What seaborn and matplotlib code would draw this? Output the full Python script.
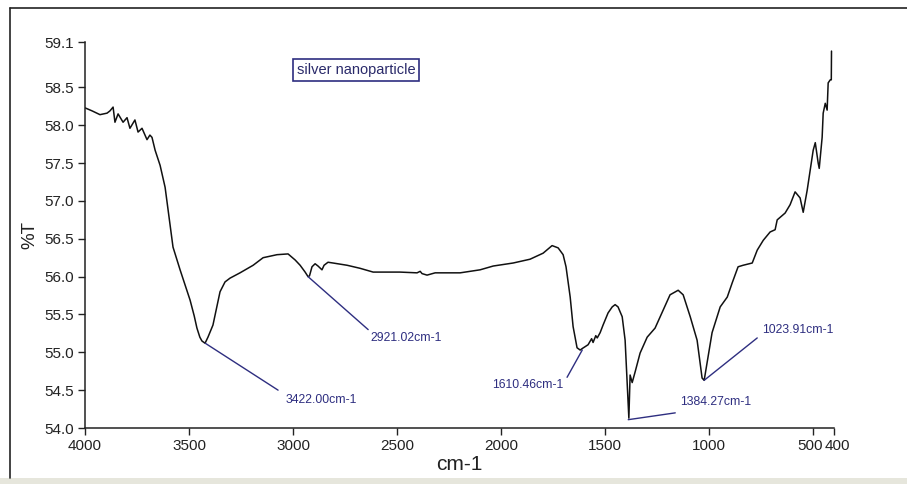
import numpy as np
import pandas as pd
import matplotlib.pyplot as plt
import matplotlib.patches as patches
import matplotlib.lines as mlines
import matplotlib.transforms as mtransforms
import seaborn as sns

# FTIR spectrum (wavenumber in cm-1, %T)
wavenumber = [4000, 3966, 3928, 3894, 3880, 3865, 3856, 3841, 3817, 3798,
              3784, 3760, 3745, 3726, 3702, 3688, 3678, 3663, 3639, 3615,
              3577, 3543, 3495, 3475, 3462, 3448, 3438, 3423, 3409, 3385,
              3351, 3327, 3303, 3255, 3192, 3144, 3077, 3024, 2990, 2966,
              2942, 2928, 2921, 2909, 2894, 2880, 2861, 2851, 2832, 2808,
              2740, 2678, 2615, 2486, 2404, 2389, 2380, 2356, 2317, 2260,
              2197, 2101, 2038, 1942, 1861, 1798, 1755, 1726, 1702, 1688,
              1668, 1654, 1635, 1620, 1610, 1582, 1565, 1558, 1545, 1538,
              1524, 1510, 1486, 1466, 1452, 1438, 1418, 1404, 1394, 1386,
              1380, 1370, 1356, 1332, 1298, 1260, 1221, 1188, 1149, 1125,
              1091, 1058, 1034, 1024, 1010, 986, 947, 913, 889, 861,
              837, 793, 769, 740, 707, 683, 673, 635, 611, 587,
              563, 548, 529, 514, 500, 490, 476, 471, 457, 452,
              442, 433, 428, 418, 413, 412]
transmittance = [58.23, 58.19, 58.14, 58.16, 58.19, 58.24, 58.04, 58.15, 58.04, 58.10,
                 57.96, 58.07, 57.91, 57.96, 57.81, 57.87, 57.84, 57.67, 57.47, 57.18,
                 56.39, 56.09, 55.69, 55.48, 55.32, 55.20, 55.15, 55.12, 55.20, 55.36,
                 55.80, 55.93, 55.98, 56.05, 56.15, 56.25, 56.29, 56.30, 56.22, 56.15,
                 56.06, 56.00, 56.01, 56.13, 56.17, 56.14, 56.09, 56.15, 56.19, 56.18,
                 56.15, 56.11, 56.06, 56.06, 56.05, 56.07, 56.04, 56.02, 56.05, 56.05,
                 56.05, 56.09, 56.14, 56.18, 56.23, 56.31, 56.41, 56.38, 56.29, 56.13,
                 55.73, 55.34, 55.06, 55.03, 55.05, 55.10, 55.18, 55.13, 55.22, 55.19,
                 55.26, 55.36, 55.52, 55.60, 55.63, 55.60, 55.47, 55.16, 54.60, 54.13,
                 54.70, 54.60, 54.74, 54.99, 55.20, 55.32, 55.56, 55.76, 55.82, 55.76,
                 55.47, 55.16, 54.66, 54.63, 54.86, 55.26, 55.60, 55.73, 55.92, 56.13,
                 56.15, 56.18, 56.35, 56.48, 56.59, 56.62, 56.75, 56.84, 56.95, 57.12,
                 57.04, 56.85, 57.14, 57.41, 57.67, 57.77, 57.50, 57.43, 57.84, 58.16,
                 58.29, 58.20, 58.56, 58.60, 58.60, 58.98]

# peak labels: peak point, end of the leader line, text anchor
peak_x = [3422, 2928, 1610, 1389, 1024]
peak_y = [55.12, 56.00, 55.03, 54.11, 54.63]
line_end_x = [3072, 2639, 1683, 1163, 769]
line_end_y = [54.50, 55.30, 54.67, 54.20, 55.19]
text_x = [3038, 2630, 1702, 1139, 745]
text_y = [54.37, 55.19, 54.57, 54.34, 55.30]
peak_labels = ["3422.00cm-1", "2921.02cm-1", "1610.46cm-1", "1384.27cm-1", "1023.91cm-1"]
peak_ha = ["left", "left", "right", "left", "left"]

y_ticks = [54.0, 54.5, 55.0, 55.5, 56.0, 56.5, 57.0, 57.5, 58.0, 58.5, 59.1]
x_ticks = [4000, 3500, 3000, 2500, 2000, 1500, 1000, 500, 400]
x_tick_labels = ["4000", "3500", "3000", "2500", "2000", "1500", "1000", "500", "400"]

sns.set_style("ticks")
plt.rcParams['font.family'] = ['Liberation Sans', 'DejaVu Sans']

df = pd.DataFrame({"wavenumber": wavenumber, "T": transmittance})

fig = plt.figure(figsize=(9.07, 4.84), dpi=100)
ax = fig.add_axes([85 / 907, 1 - 428 / 484, (834 - 85) / 907, (428 - 42) / 484])

sns.lineplot(data=df, x="wavenumber", y="T", ax=ax, color="#111111",
             linewidth=1.1, estimator=None, sort=False)

ax.set_xlim(4000, 400)
ax.set_ylim(54.0, 59.1)
ax.set_xticks(x_ticks)
# the last two ticks sit close together: draw their labels nudged apart
ax.set_xticklabels(x_tick_labels[:-2] + ["", ""])
ax.set_yticks(y_ticks)
ax.set_yticklabels([f"{t:.1f}" for t in y_ticks])
ax.tick_params(axis="both", labelsize=11, colors="#222222", length=5, width=1, pad=3)
ax.set_xlabel("cm-1", fontsize=15, color="#222222", labelpad=1)
ax.set_ylabel("%T", fontsize=13.5, color="#222222", labelpad=4)
for side in ["top", "right"]:
    ax.spines[side].set_visible(False)
for side in ["left", "bottom"]:
    ax.spines[side].set_color("#222222")
    ax.spines[side].set_linewidth(1.1)

for tick, lab, dx in zip(x_ticks[-2:], x_tick_labels[-2:], [-2.4, 2.4]):
    tr = mtransforms.offset_copy(ax.get_xaxis_transform(), fig=fig, x=dx, y=-8, units="points")
    ax.text(tick, 0, lab, transform=tr, ha="center", va="top", fontsize=11, color="#222222")

navy = "#2e2e80"
for px, py, lx, ly, tx, ty, lab, ha in zip(peak_x, peak_y, line_end_x, line_end_y,
                                          text_x, text_y, peak_labels, peak_ha):
    ax.plot([px, lx], [py, ly], color=navy, linewidth=1)
    ax.text(tx, ty, lab, color=navy, fontsize=8.8, ha=ha, va="center")

ax.text(2697, 58.73, "silver nanoparticle", color="#2a2a6a", fontsize=10.5,
        ha="center", va="center",
        bbox=dict(boxstyle="square,pad=0.25", facecolor="white", edgecolor=navy, linewidth=1.2))

# outer frame of the picture
fig.add_artist(mlines.Line2D([10 / 907, 1], [1 - 8 / 484, 1 - 8 / 484], color="#222222", linewidth=1.2))
fig.add_artist(mlines.Line2D([10 / 907, 10 / 907], [1 - 8 / 484, 1 - 478 / 484], color="#222222", linewidth=1.2))
fig.add_artist(patches.Rectangle((0, 0), 1, 6 / 484, transform=fig.transFigure,
                                 facecolor="#e6e6dc", edgecolor="none"))

plt.savefig("out.png", dpi=100)
plt.close()
